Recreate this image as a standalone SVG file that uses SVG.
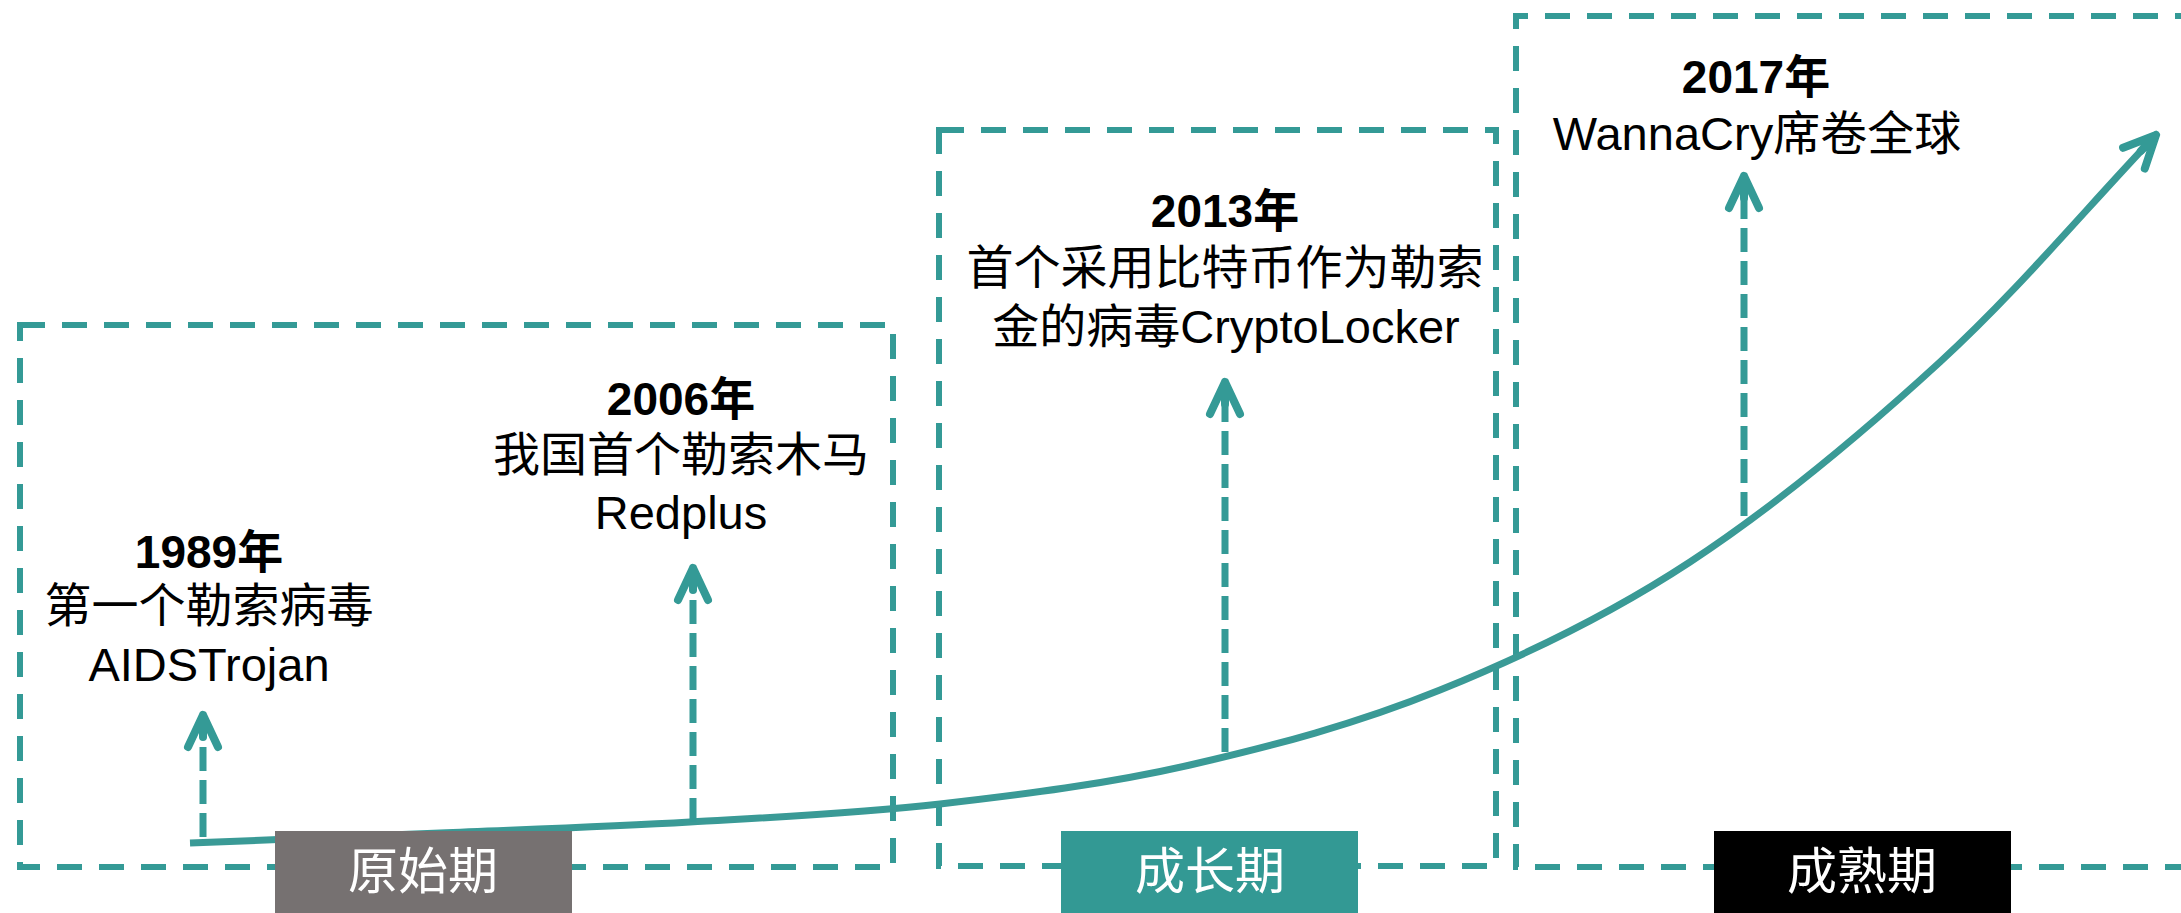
<svg xmlns="http://www.w3.org/2000/svg" width="2181" height="913" viewBox="0 0 2181 913">
<style>
.frame{fill:none;stroke:#349a96;stroke-width:6;stroke-dasharray:25 17}
.curve{fill:none;stroke:#3a9a96;stroke-width:7;stroke-linecap:butt}
.vline{fill:none;stroke:#349a96;stroke-width:7;stroke-dasharray:24 9}
.head{fill:none;stroke:#349a96;stroke-width:8;stroke-linecap:round;stroke-linejoin:round}
.yr{font-family:"Liberation Sans","Noto Sans CJK SC",sans-serif;font-weight:bold;font-size:46px;fill:#000;text-anchor:middle}
.tx{font-family:"Liberation Sans","Noto Sans CJK SC",sans-serif;font-size:47px;fill:#000;text-anchor:middle}
.lb{font-family:"Noto Sans CJK SC",sans-serif;font-size:50px;fill:#fff;text-anchor:middle}
</style>
<defs>
<marker id="arr" markerUnits="userSpaceOnUse" markerWidth="80" markerHeight="80" refX="0" refY="0" orient="auto" overflow="visible" viewBox="-40 -40 80 80">
<path class="head" d="M-32,-15 L0,0 L-32,15 M0,0 L-22,0"/>
</marker>
</defs>
<rect width="2181" height="913" fill="#fff"/>
<g id="frames">
<rect id="frame1" class="frame" x="20" y="325" width="873" height="542"/>
<rect id="frame2" class="frame" x="939" y="130" width="557" height="736"/>
<path id="frame3" class="frame" d="M2200,16 L1516,16 L1516,867 L2200,867"/>
</g>
<g id="connectors">
<path id="trend" class="curve" marker-end="url(#arr)" d="M190,843 C273.3,839.7 356.7,836.5 440,833 C523.3,829.5 606.7,826.8 690,822 C773.3,817.2 856.7,813.5 940,804 C1023.3,794.5 1106.7,784 1190,765 C1273.3,746 1356.7,723.8 1440,690 C1523.3,656.2 1606.7,616.7 1690,562 C1773.3,507.3 1862,433.5 1940,362 C2018,290.5 2085.3,209.3 2156,135"/>
<path id="a1989" class="vline" marker-end="url(#arr)" d="M203,837 L203,715"/>
<path id="a2006" class="vline" marker-end="url(#arr)" d="M693,822 L693,568"/>
<path id="a2013" class="vline" marker-end="url(#arr)" d="M1225,752 L1225,382"/>
<path id="a2017" class="vline" marker-end="url(#arr)" d="M1744,516 L1744,176"/>
</g>
<g id="stage1">
<rect x="275" y="831" width="297" height="82" fill="#767171"/>
<text class="lb" x="423" y="889">原始期</text>
</g>
<g id="stage2">
<rect x="1061" y="831" width="297" height="82" fill="#339994"/>
<text class="lb" x="1210" y="889">成长期</text>
</g>
<g id="stage3">
<rect x="1714" y="831" width="297" height="82" fill="#000"/>
<text class="lb" x="1862" y="889">成熟期</text>
</g>
<g id="event1989">
<text class="yr" x="209" y="568">1989年</text>
<text class="tx" x="209" y="622">第一个勒索病毒</text>
<text class="tx" x="209" y="681">AIDSTrojan</text>
</g>
<g id="event2006">
<text class="yr" x="681" y="415">2006年</text>
<text class="tx" x="681" y="471">我国首个勒索木马</text>
<text class="tx" x="681" y="529">Redplus</text>
</g>
<g id="event2013">
<text class="yr" x="1225" y="227">2013年</text>
<text class="tx" x="1225" y="284">首个采用比特币作为勒索</text>
<text class="tx" x="1226" y="343">金的病毒CryptoLocker</text>
</g>
<g id="event2017">
<text class="yr" x="1756" y="93">2017年</text>
<text class="tx" x="1757" y="150">WannaCry席卷全球</text>
</g>
</svg>
